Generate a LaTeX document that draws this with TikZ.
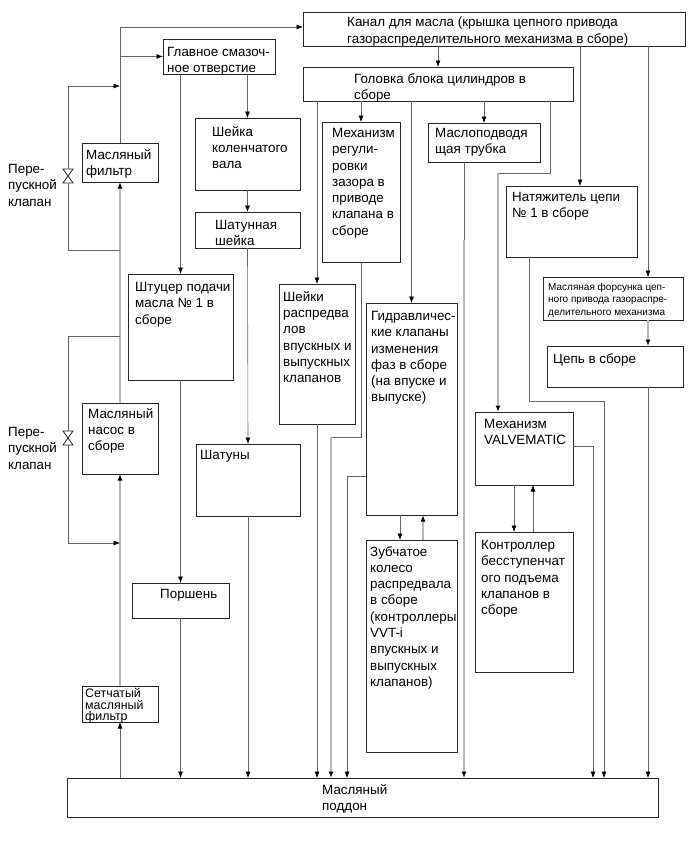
\documentclass[tikz,border=0pt]{standalone}
\usepackage{fontspec}
\setmainfont{Liberation Sans}
\usetikzlibrary{
  positioning,
  arrows.meta
}

\begin{document}
\begin{tikzpicture}[
    x=1pt, y=-1pt,
    every node/.style={font=\fontsize{13.4}{16.3}\selectfont},
    box/.style={
        rectangle,
        draw=black!85,
        line width=1pt,
        inner sep=0pt,
        outer sep=0pt,
        anchor=north west
    },
    txt/.style={
        inner sep=0pt,
        align=left
    },
    smalltxt/.style={
        txt,
        font=\fontsize{10}{12.5}\selectfont
    },
    tighttxt/.style={
        txt,
        font=\fontsize{12.4}{11.6}\selectfont
    },
    line/.style={draw=black!60, line width=0.6pt},
    arrow/.style={line, -{Latex[length=6.5pt,width=5pt,color=black]}},
    thickline/.style={draw=black!28, line width=2pt},
    thickarrow/.style={thickline, -{Latex[length=6.5pt,width=5pt,color=black]}},
    valvesym/.style={draw=black!85, line width=0.8pt, fill=white}
]
\useasboundingbox (0,0) rectangle (690,854);

% Boxes
\node[box, minimum width=382, minimum height=34] (kanal) at (303,12) {};
\node[txt, below right=5pt and 44pt of kanal.north west] (kanal-t) {Канал для масла (крышка цепного привода\\газораспределительного механизма в сборе)};

\node[box, minimum width=112, minimum height=35] (glav) at (163,39) {};
\node[txt, below right=8pt and 4pt of glav.north west] (glav-t) {Главное смазоч-\\ное отверстие};

\node[box, minimum width=270, minimum height=34] (golovka) at (303,67) {};
\node[txt, below right=6pt and 51pt of golovka.north west] (golovka-t) {Головка блока цилиндров в\\сборе};

\node[box, minimum width=105, minimum height=72] (sheika) at (195,118) {};
\node[txt, below right=8pt and 17pt of sheika.north west] (sheika-t) {Шейка\\коленчатого\\вала};

\node[box, minimum width=78, minimum height=140] (mehreg) at (322,122) {};
\node[txt, below right=6pt and 10pt of mehreg.north west] (mehreg-t) {Механизм\\регули-\\ровки\\зазора в\\приводе\\клапана в\\сборе};

\node[box, minimum width=112, minimum height=39] (maslopod) at (428,123) {};
\node[txt, below right=5pt and 7pt of maslopod.north west] (maslopod-t) {Маслоподводя\\щая трубка};

\node[box, minimum width=76, minimum height=39] (filtr) at (82,143) {};
\node[txt, below right=6pt and 4pt of filtr.north west] (filtr-t) {Масляный\\фильтр};

\node[box, minimum width=131, minimum height=71] (natyazh) at (506,186) {};
\node[txt, below right=6pt and 6pt of natyazh.north west] (natyazh-t) {Натяжитель цепи\\№ 1 в сборе};

\node[box, minimum width=105, minimum height=36] (shshejka) at (195,212) {};
\node[txt, below right=8pt and 20pt of shshejka.north west] (shshejka-t) {Шатунная\\шейка};

\node[box, minimum width=105, minimum height=106] (shtucer) at (128,274) {};
\node[txt, below right=8pt and 7pt of shtucer.north west] (shtucer-t) {Штуцер подачи\\масла № 1 в\\сборе};

\node[box, minimum width=140, minimum height=43] (forsunka) at (543,277) {};
\node[smalltxt, below right=6pt and 5pt of forsunka.north west] (forsunka-t) {Масляная форсунка цеп-\\ного привода газораспре-\\делительного механизма};

\node[box, minimum width=76, minimum height=140] (sheiki) at (279,284) {};
\node[txt, below right=7pt and 4pt of sheiki.north west] (sheiki-t) {Шейки\\распредва\\лов\\впускных и\\выпускных\\клапанов};

\node[box, minimum width=91, minimum height=212] (gidro) at (366,303) {};
\node[txt, below right=8pt and 5pt of gidro.north west] (gidro-t) {Гидравличес-\\кие клапаны\\изменения\\фаз в сборе\\(на впуске и\\выпуске)};

\node[box, minimum width=136, minimum height=41] (tsep) at (547,346) {};
\node[txt, below right=7pt and 6pt of tsep.north west] (tsep-t) {Цепь в сборе};

\node[box, minimum width=76, minimum height=71] (nasos) at (82,403) {};
\node[txt, below right=5pt and 6pt of nasos.north west] (nasos-t) {Масляный\\насос в\\сборе};

\node[box, minimum width=98, minimum height=73] (vmatic) at (475,412) {};
\node[txt, below right=7pt and 9pt of vmatic.north west] (vmatic-t) {Механизм\\VALVEMATIC};

\node[box, minimum width=104, minimum height=72] (shatuny) at (196,444) {};
\node[txt, below right=6pt and 4pt of shatuny.north west] (shatuny-t) {Шатуны};

\node[box, minimum width=91, minimum height=212] (zubch) at (366,540) {};
\node[txt, below right=6pt and 4pt of zubch.north west] (zubch-t) {Зубчатое\\колесо\\распредвала\\в сборе\\(контроллеры\\VVT-i\\впускных и\\выпускных\\клапанов)};

\node[box, minimum width=98, minimum height=140] (kontr) at (475,532) {};
\node[txt, below right=8pt and 6pt of kontr.north west] (kontr-t) {Контроллер\\бесступенчат\\ого подъема\\клапанов в\\сборе};

\node[box, minimum width=97, minimum height=35] (porshen) at (132,583) {};
\node[txt, below right=6pt and 28pt of porshen.north west] (porshen-t) {Поршень};

\node[box, minimum width=76, minimum height=36] (setch) at (82,686) {};
\node[tighttxt, below right=2pt and 3pt of setch.north west] (setch-t) {Сетчатый\\масляный\\фильтр};

\node[box, minimum width=591, minimum height=39] (poddon) at (67,778) {};
\node[txt, below right=6pt and 255pt of poddon.north west] (poddon-t) {Масляный\\поддон};

% Bypass valve labels
\node[txt, anchor=north west] (bypass1-t) at (8,164) {Пере-\\пускной\\клапан};
\node[txt, anchor=north west] (bypass2-t) at (8,427) {Пере-\\пускной\\клапан};

% Helper points
\coordinate (valve1) at (68,176);
\coordinate (valve2) at (68,438);
\coordinate (bp1t) at (68,86);
\coordinate (bp1b) at (68,250);
\coordinate (bp2t) at (68,336);
\coordinate (bp2b) at (68,543);
\coordinate (xnat) at (580,0);
\coordinate (rline) at (648,0);
\coordinate (xgv) at (550,0);
\coordinate (gvbend) at (498,173);
\coordinate (mpbend) at (464,240);
\coordinate (mrbend) at (331,437);
\coordinate (gdbend) at (347,476);
\coordinate (gz1) at (400,0);
\coordinate (gz2) at (423,0);
\coordinate (vk1) at (514,0);
\coordinate (vk2) at (533,0);
\coordinate (xvm) at (593,0);
\coordinate (xnt) at (529,0);
\coordinate (ntbend) at (604,401);

% Pump line
\draw[arrow] (setch.south |- poddon.north) -- (setch.south);
\draw[thickarrow] (setch.north) -- (nasos.south);
\draw[thickarrow] (nasos.north) -- (filtr.south);
\draw[arrow] (filtr.north) |- ([yshift=2pt]kanal.west);
\draw[arrow] (filtr.north |- glav.west) -- (glav.west);

% Bypass valves
\draw[arrow] (filtr.south |- bp1b) -- (bp1b) -- (bp1t) -- (filtr.north |- bp1t);
\draw[arrow] (nasos.north |- bp2t) -- (bp2t) -- (bp2b) -- (nasos.south |- bp2b);
\draw[valvesym] ([shift={(-5pt,7pt)}]valve1) -- ++(10pt,0) -- ++(-10pt,-14pt) -- ++(10pt,0) -- cycle;
\draw[valvesym] ([shift={(-5pt,7pt)}]valve2) -- ++(10pt,0) -- ++(-10pt,-14pt) -- ++(10pt,0) -- cycle;

% From oil channel
\draw[arrow] (kanal.south -| golovka.north) -- (golovka.north);
\draw[arrow] (xnat |- kanal.south) -- (xnat |- natyazh.north);
\draw[arrow] (rline |- kanal.south) -- (rline |- forsunka.north);
\draw[thickarrow] (rline |- forsunka.south) -- (rline |- tsep.north);
\draw[arrow] (rline |- tsep.south) -- (rline |- poddon.north);

% From cylinder head
\draw[arrow] (golovka.south -| sheiki.north) -- (sheiki.north);
\draw[arrow] (golovka.south -| mehreg.north) -- (mehreg.north);
\draw[arrow] (golovka.south -| gidro.north) -- (gidro.north);
\draw[arrow] (golovka.south -| maslopod.north) -- (maslopod.north);
\draw[line] (xgv |- golovka.south) |- (gvbend);
\draw[thickarrow] (gvbend) -- (gvbend |- vmatic.north);

% Back to the oil pan
\draw[line] (mpbend |- maslopod.south) -- (mpbend);
\draw[thickarrow] (mpbend) -- (mpbend |- poddon.north);
\draw[line] (mehreg.south) |- (mrbend);
\draw[thickarrow] (mrbend) -- (mrbend |- poddon.north);
\draw[arrow] (sheiki.south) -- (sheiki.south |- poddon.north);
\draw[arrow] (gidro.west |- gdbend) -- (gdbend) -- (gdbend |- poddon.north);
\draw[arrow] (gz1 |- gidro.south) -- (gz1 |- zubch.north);
\draw[thickarrow] (gz2 |- zubch.north) -- (gz2 |- gidro.south);
\draw[arrow] (vk1 |- vmatic.south) -- (vk1 |- kontr.north);
\draw[arrow] (vk2 |- kontr.north) -- (vk2 |- vmatic.south);
\draw[arrow] ([yshift=2pt]vmatic.east) -| (xvm |- poddon.north);
\draw[arrow] (xnt |- natyazh.south) |- (ntbend) -- (ntbend |- poddon.north);

% Crankshaft side
\draw[arrow] (glav.south -| shtucer.north) -- (shtucer.north);
\draw[arrow] (glav.south -| sheika.north) -- (sheika.north);
\draw[arrow] (sheika.south) -- (shshejka.north);
\draw[arrow] (shshejka.south) -- (shatuny.north);
\draw[arrow] (shtucer.south) -- (porshen.north);
\draw[arrow] (porshen.south) -- (porshen.south |- poddon.north);
\draw[arrow] (shatuny.south) -- (shatuny.south |- poddon.north);

\end{tikzpicture}
\end{document}
